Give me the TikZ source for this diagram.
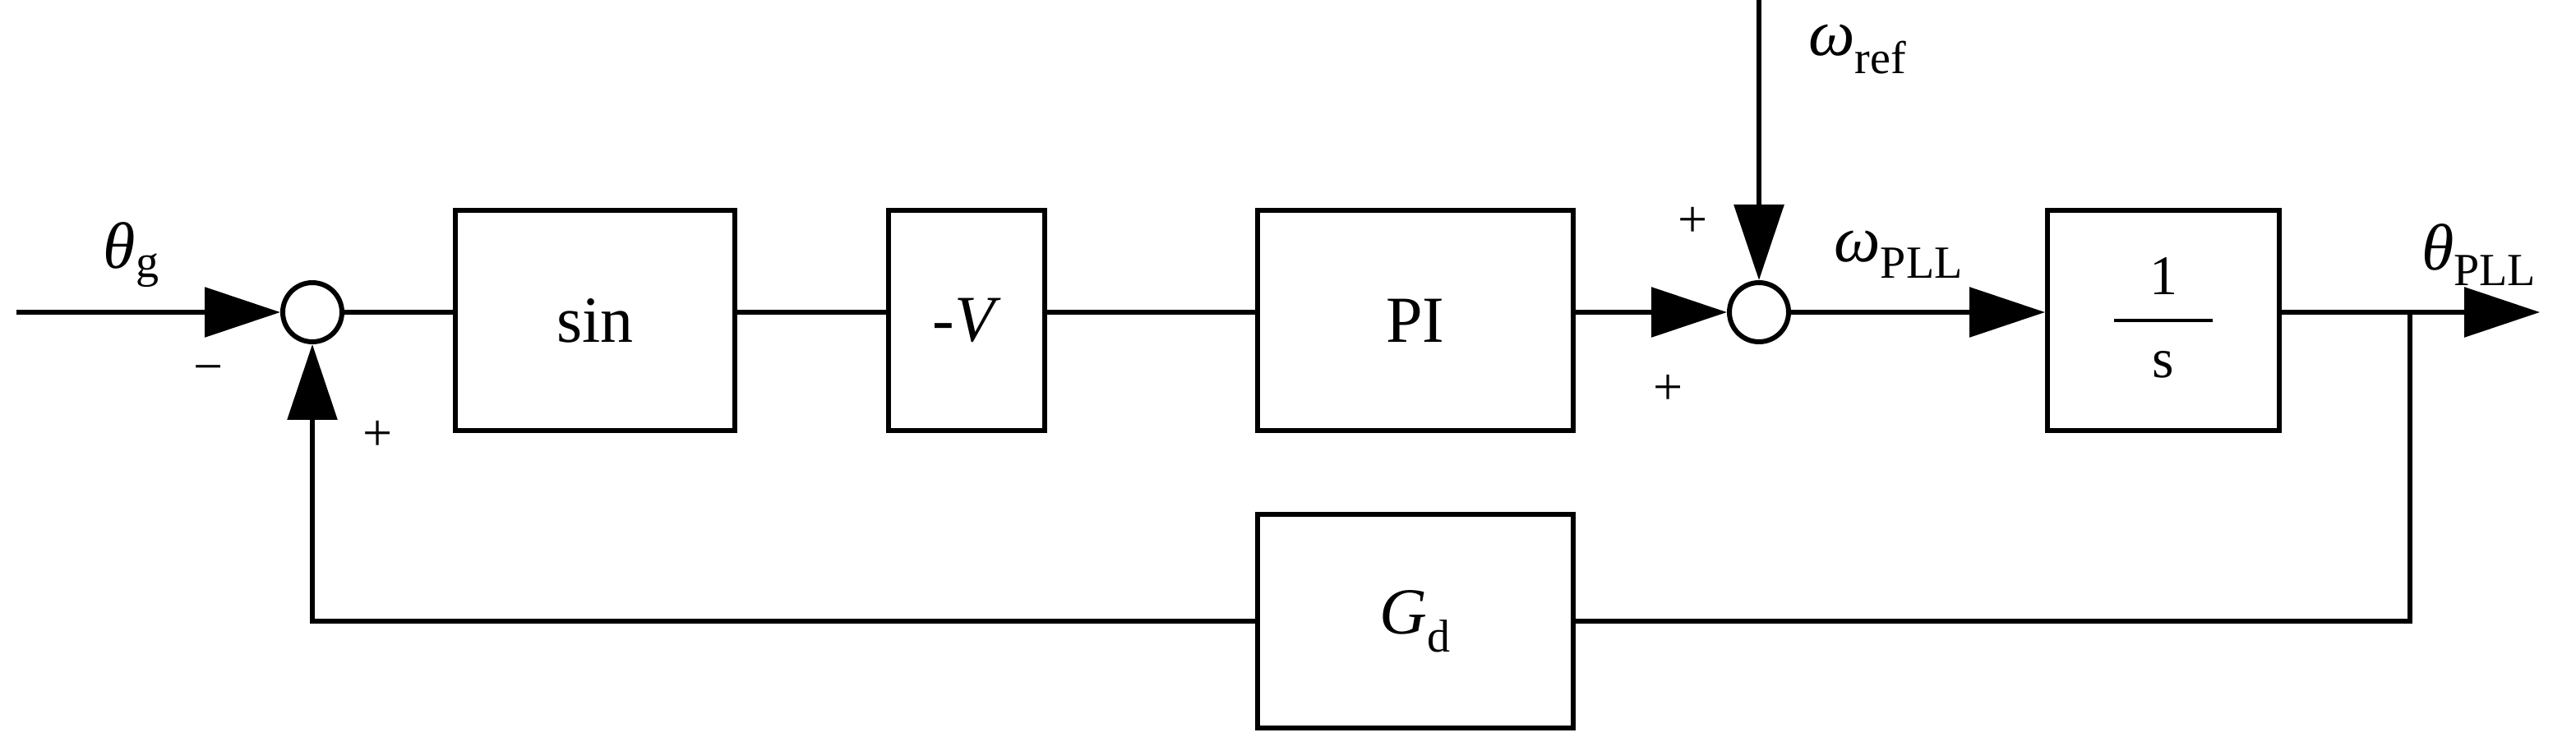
\documentclass[tikz,border=0pt]{standalone}
\usepackage{fontspec}
\setmainfont{Liberation Serif}
\usetikzlibrary{arrows.meta}
\begin{document}
\begin{tikzpicture}[x=1pt,y=-1pt,line width=3pt,
  blk/.style={draw,minimum height=134pt,inner sep=0pt,font=\fontsize{40}{40}\selectfont},
  sum/.style={draw,circle,minimum size=36pt,inner sep=0pt},
  lab/.style={font=\fontsize{40}{40}\selectfont},
  pm/.style={font=\fontsize{32}{32}\selectfont},
  arr/.style={-{Triangle[length=46pt,width=30pt]}}]
\useasboundingbox (0,0) rectangle (1567,457);
\coordinate (in) at (10,190);
\node[sum] (s1) at (190,190) {};
\node[blk,minimum width=170pt] (sin) at (362,195) {sin};
\node[blk,minimum width=95pt] (v) at (588,195) {-\textit{V}};
\node[blk,minimum width=192pt] (pi) at (861,195) {PI};
\node[sum] (s2) at (1070,190) {};
\node[blk,minimum width=141pt] (int) at (1316,195) {};
\node[font=\fontsize{34}{34}\selectfont] (num) at (1316,168) {1};
\node[font=\fontsize{34}{34}\selectfont] (den) at (1316,222) {s};
\draw[line width=2pt] (1286,195) -- (1346,195);
\node[blk,minimum width=192pt,minimum height=130pt] (gd) at (861,378) {\textit{G}\textsubscript{d}};
\coordinate (out) at (1545,190);
\coordinate (br) at (1466,190);
\coordinate (top) at (1070,0);
\draw[arr] (in) -- (s1.west);
\draw (s1.east) -- (sin.west|-s1.east);
\draw (sin.east|-s1) -- (v.west|-s1);
\draw (v.east|-s1) -- (pi.west|-s1);
\draw[arr] (pi.east|-s2) -- (s2.west);
\draw[arr] (top) -- (s2.north);
\draw[arr] (s2.east) -- (int.west|-s2);
\draw[arr] (int.east|-s2) -- (out);
\draw (br) |- (gd.east);
\draw[arr] (gd.west) -| (s1.south);
\node[lab] at (80,155) {\textit{θ}\textsubscript{g}};
\node[pm] at (127,228) {−};
\node[pm] at (230,265) {+};
\node[pm] at (1030,135) {+};
\node[pm] at (1015,237) {+};
\node[lab] at (1155,155) {\textit{ω}\textsubscript{PLL}};
\node[lab] at (1508,155) {\textit{θ}\textsubscript{PLL}};
\node[lab] at (1130,30) {\textit{ω}\textsubscript{ref}};
\end{tikzpicture}
\end{document}
